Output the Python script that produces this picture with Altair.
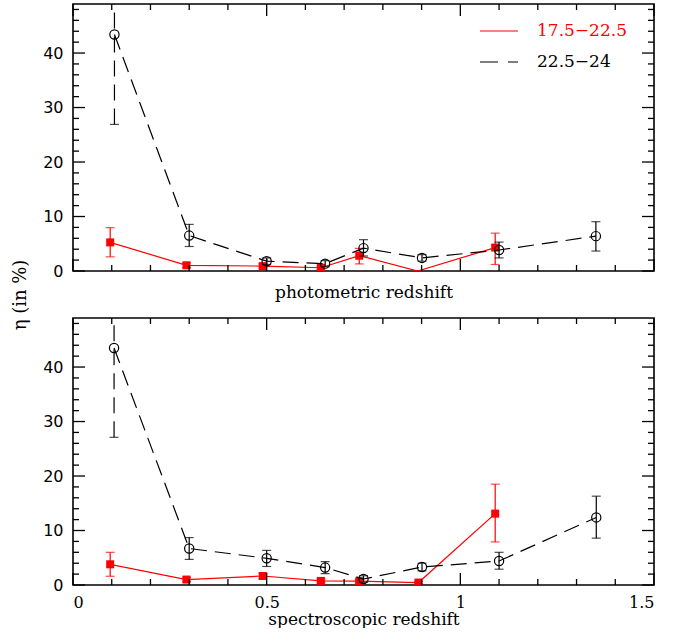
import altair as alt
import pandas as pd

# ---------------- data ----------------
# photometric redshift panel
phot_z_faint = [0.107, 0.300, 0.500, 0.651, 0.750, 0.901, 1.100, 1.350]
phot_eta_faint = [43.4, 6.5, 1.8, 1.35, 4.2, 2.4, 3.85, 6.4]
phot_lo_faint = [26.9, 4.5, 1.2, 0.8, 2.75, 1.8, 2.4, 3.66]
phot_hi_faint = [60.0, 8.55, 2.4, 1.9, 5.75, 3.0, 5.3, 9.05]

phot_z_bright = [0.096, 0.293, 0.490, 0.640, 0.739, 0.890, 1.090]
phot_eta_bright = [5.25, 1.05, 0.9, 0.6, 2.8, 0.0, 4.3]
phot_lo_bright = [2.6, 0.6, 0.5, 0.3, 1.3, 0.0, 1.2]
phot_hi_bright = [7.95, 1.5, 1.3, 0.9, 4.15, 0.0, 6.95]

# spectroscopic redshift panel
spec_z_faint = [0.106, 0.300, 0.500, 0.651, 0.750, 0.901, 1.100, 1.351]
spec_eta_faint = [43.5, 6.7, 4.9, 3.2, 1.1, 3.3, 4.4, 12.4]
spec_lo_faint = [27.1, 4.7, 3.4, 2.1, 0.5, 2.6, 2.9, 8.6]
spec_hi_faint = [60.0, 8.7, 6.35, 4.3, 1.7, 4.0, 6.0, 16.3]

spec_z_bright = [0.096, 0.293, 0.490, 0.640, 0.739, 0.892, 1.090]
spec_eta_bright = [3.8, 1.0, 1.65, 0.75, 0.7, 0.45, 13.1]
spec_lo_bright = [1.6, 0.6, 1.1, 0.4, 0.4, 0.2, 7.9]
spec_hi_bright = [6.0, 1.4, 2.2, 1.1, 1.0, 0.7, 18.5]

legend_labels = ["17.5\u221222.5", "22.5\u221224"]
x_major = [0, 0.5, 1, 1.5]
x_minor = [0.1, 0.2, 0.3, 0.4, 0.6, 0.7, 0.8, 0.9, 1.1, 1.2, 1.3, 1.4]
y_major = [0, 10, 20, 30, 40]
y_minor = [2, 4, 6, 8, 12, 14, 16, 18, 22, 24, 26, 28, 32, 34, 36, 38, 42, 44, 46, 48]

# ---------------- styling ----------------
W, H = 581, 267
YMAX = 49
RED = "#ff0000"
SERIF = "DejaVu Serif"
SANS = "DejaVu Sans"
DASH = [16, 8]
MAJ, MIN = 12, 6

xs = alt.Scale(domain=[0, 1.5], nice=False, zero=False)
ys = alt.Scale(domain=[0, YMAX], nice=False, zero=False)


def make_axes(xtitle, bottom):
    xaxis = alt.Axis(
        title=xtitle, values=x_major, format="~g", labels=bottom, ticks=False,
        domain=False, grid=False, labelFont=SERIF, labelFontSize=16,
        labelPadding=9, labelColor="black", titleFont=SERIF, titleFontSize=17,
        titleFontWeight="normal", titleColor="black",
        titlePadding=1 if bottom else 13,
    )
    yargs = dict(
        values=y_major, format="d", ticks=False,
        domain=False, grid=False, labelFont=SANS, labelFontSize=16,
        labelPadding=10, labelColor="black",
    )
    if bottom:
        yaxis = alt.Axis(title=None, **yargs)
    else:
        yaxis = alt.Axis(
            title="\u03b7   (in %)", titleFont=SERIF, titleFontSize=18,
            titleFontWeight="normal", titleColor="black", titlePadding=13,
            titleAngle=270, titleAlign="center", titleBaseline="bottom",
            titleY=H + 23.5, **yargs)
    return xaxis, yaxis


def tick_layers(xaxis, yaxis):
    layers = []
    for vals, L in ((x_major, MAJ), (x_minor, MIN)):
        d = pd.DataFrame({"v": vals})
        xe = alt.X("v:Q", scale=xs, axis=xaxis)
        layers.append(alt.Chart(d).mark_rule(color="black", strokeWidth=1.3).encode(
            x=xe, y=alt.value(0), y2=alt.value(L)))
        layers.append(alt.Chart(d).mark_rule(color="black", strokeWidth=1.3).encode(
            x=xe, y=alt.value(H), y2=alt.value(H - L)))
    for vals, L in ((y_major, MAJ), (y_minor, MIN)):
        d = pd.DataFrame({"v": vals})
        ye = alt.Y("v:Q", scale=ys, axis=yaxis)
        layers.append(alt.Chart(d).mark_rule(color="black", strokeWidth=1.3).encode(
            y=ye, x=alt.value(0), x2=alt.value(L)))
        layers.append(alt.Chart(d).mark_rule(color="black", strokeWidth=1.3).encode(
            y=ye, x=alt.value(W), x2=alt.value(W - L)))
    return layers


def panel(zf, ef, lof, hif, zb, eb, lob, hib, xtitle, bottom, legend):
    faint = pd.DataFrame({"z": zf, "eta": ef, "lo": lof, "hi": hif})
    bright = pd.DataFrame({"z": zb, "eta": eb, "lo": lob, "hi": hib})
    xaxis, yaxis = make_axes(xtitle, bottom)

    X = alt.X("z:Q", scale=xs, axis=xaxis)

    def Y(f):
        return alt.Y(f, scale=ys, axis=yaxis)

    # bright sample (red, solid)
    red_line = alt.Chart(bright).mark_line(color=RED, strokeWidth=1.2, clip=True).encode(
        x=X, y=Y("eta:Q"))
    red_err = alt.Chart(bright).transform_filter("datum.hi > datum.lo").mark_rule(
        color=RED, strokeWidth=1.2, clip=True).encode(
        x=X, y=Y("lo:Q"), y2="hi:Q")
    red_caps = alt.Chart(bright).transform_filter("datum.hi > datum.lo").transform_fold(
        ["lo", "hi"], as_=["k", "val"]).mark_tick(
        color=RED, orient="horizontal", size=9, thickness=1.2, clip=True).encode(
        x=X, y=Y("val:Q"))
    red_pts = alt.Chart(bright).transform_filter("datum.eta > 0").mark_square(
        color=RED, size=64, opacity=1, clip=True).encode(
        x=X, y=Y("eta:Q"))

    # faint sample (black, dashed)
    blk_line = alt.Chart(faint).mark_line(color="black", strokeWidth=1.2,
                                          strokeDash=DASH, clip=True).encode(
        x=X, y=Y("eta:Q"))
    blk_err = alt.Chart(faint).mark_rule(color="black", strokeWidth=1.2, clip=True).encode(
        x=X, y=Y("lo:Q"), y2="hi:Q",
        strokeDash=alt.condition("datum.hi - datum.lo > 20",
                                 alt.value(DASH), alt.value([1, 0])))
    blk_caps = alt.Chart(faint).transform_fold(["lo", "hi"], as_=["k", "val"]).mark_tick(
        color="black", orient="horizontal", size=9, thickness=1.2, clip=True).encode(
        x=X, y=Y("val:Q"))
    blk_pts = alt.Chart(faint).mark_point(
        shape="circle", filled=False, color="black", size=85, strokeWidth=1.2,
        opacity=1, clip=True).encode(
        x=X, y=Y("eta:Q"))

    layers = [red_line, red_err, red_caps, red_pts, blk_line, blk_err, blk_caps, blk_pts]
    layers += tick_layers(xaxis, yaxis)

    if legend:
        lg = pd.DataFrame({"label": legend_labels})
        layers.append(alt.Chart(lg).transform_filter(
            alt.datum.label == legend_labels[0]).mark_rule(
            color=RED, strokeWidth=1.2).encode(
            x=alt.value(407), x2=alt.value(445), y=alt.value(27)))
        layers.append(alt.Chart(lg).transform_filter(
            alt.datum.label == legend_labels[1]).mark_rule(
            color="black", strokeWidth=1.2, strokeDash=[18, 10]).encode(
            x=alt.value(407), x2=alt.value(445), y=alt.value(58)))
        layers.append(alt.Chart(lg).transform_filter(
            alt.datum.label == legend_labels[0]).mark_text(
            color=RED, font=SERIF, fontSize=17, align="left", baseline="middle").encode(
            x=alt.value(464), y=alt.value(27), text="label:N"))
        layers.append(alt.Chart(lg).transform_filter(
            alt.datum.label == legend_labels[1]).mark_text(
            color="black", font=SERIF, fontSize=17, align="left", baseline="middle").encode(
            x=alt.value(464), y=alt.value(58), text="label:N"))

    return alt.layer(*layers).properties(width=W, height=H)


top = panel(phot_z_faint, phot_eta_faint, phot_lo_faint, phot_hi_faint,
            phot_z_bright, phot_eta_bright, phot_lo_bright, phot_hi_bright,
            "photometric redshift", bottom=False, legend=True)
bottom = panel(spec_z_faint, spec_eta_faint, spec_lo_faint, spec_hi_faint,
               spec_z_bright, spec_eta_bright, spec_lo_bright, spec_hi_bright,
               "spectroscopic redshift", bottom=True, legend=False)

chart = alt.vconcat(top, bottom, spacing=47, bounds="flush").configure_view(
    stroke="black", strokeWidth=1.6
).properties(
    padding={"left": 10, "top": 2, "right": 14, "bottom": 0},
    background="white",
)

chart.save("out.html", embed_options={"renderer": "svg", "actions": False})
